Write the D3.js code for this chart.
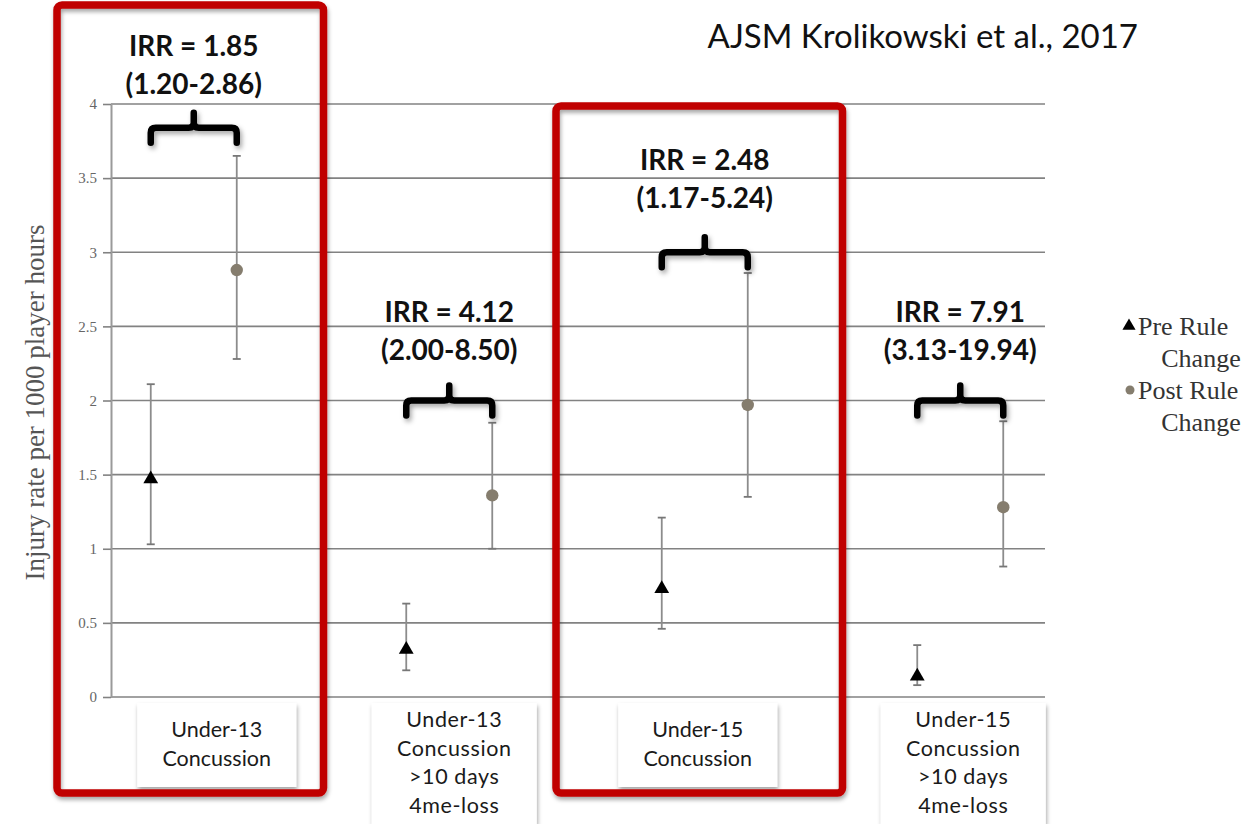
<!DOCTYPE html>
<html>
<head>
<meta charset="utf-8">
<script src="https://cdn.jsdelivr.net/npm/d3@7"></script>
<style>
  html, body { margin: 0; padding: 0; background: #fff; }
  svg { display: block; }
</style>
</head>
<body>
<script>
// ---------------- DATA ----------------
const groups = ["U13C", "U13T", "U15C", "U15T"];
const groupLabels = [
  ["Under-13", "Concussion"],
  ["Under-13", "Concussion", ">10 days", "4me-loss"],
  ["Under-15", "Concussion"],
  ["Under-15", "Concussion", ">10 days", "4me-loss"]
];
const series = ["Pre Rule Change", "Post Rule Change"];
const preRate  = [1.47, 0.32, 0.73, 0.14];
const preLow   = [1.03, 0.18, 0.46, 0.08];
const preHigh  = [2.11, 0.63, 1.21, 0.35];
const postRate = [2.88, 1.36, 1.97, 1.28];
const postLow  = [2.28, 1.00, 1.35, 0.88];
const postHigh = [3.65, 1.85, 2.86, 1.86];
const irrText  = ["IRR = 1.85", "IRR = 4.12", "IRR = 2.48", "IRR = 7.91"];
const ciText   = ["(1.20-2.86)", "(2.00-8.50)", "(1.17-5.24)", "(3.13-19.94)"];
const bracketLevel = [3.84, 2.0, 3.0, 2.0];   // in y units
const irrLevel     = [4.39, 2.60, 3.62, 2.60]; // in y units
const highlighted  = ["U13C", "U15C"];
const yTicks = [0, 0.5, 1, 1.5, 2, 2.5, 3, 3.5, 4];
const yLabel = "Injury rate per 1000 player hours";
const source = "AJSM Krolikowski et al., 2017";

// ---------------- LAYOUT ----------------
const W = 1251, H = 824;
const svg = d3.select("body").append("svg").attr("width", W).attr("height", H);
svg.append("rect").attr("width", W).attr("height", H).attr("fill", "#fff");

const defs = svg.append("defs");
const sh = defs.append("filter").attr("id", "shadow").attr("x", "-20%").attr("y", "-20%").attr("width", "150%").attr("height", "150%");
sh.append("feDropShadow").attr("dx", 2).attr("dy", 3).attr("stdDeviation", 2.5).attr("flood-color", "#000").attr("flood-opacity", 0.35);
const sh2 = defs.append("filter").attr("id", "shadow2").attr("x", "-20%").attr("y", "-50%").attr("width", "150%").attr("height", "250%");
sh2.append("feDropShadow").attr("dx", 1).attr("dy", 3).attr("stdDeviation", 2).attr("flood-color", "#000").attr("flood-opacity", 0.35);

const axisX = 111, gridRight = 1045;
const x = d3.scaleBand().domain(groups).range([66, 1088]);
const inner = d3.scalePoint().domain(series).range([-43, 43]);
const y = d3.scaleLinear().domain([0, 4]).range([697, 104]);
const cx = g => x(g) + x.bandwidth() / 2;

// gridlines
svg.append("g").selectAll("line").data(yTicks).join("line")
  .attr("x1", axisX).attr("x2", gridRight)
  .attr("y1", d => y(d)).attr("y2", d => y(d))
  .attr("stroke", "#828282").attr("stroke-width", 1.6);

// axis
const yAxis = d3.axisLeft(y).tickValues(yTicks).tickSize(8).tickSizeOuter(0).tickPadding(6)
  .tickFormat(d3.format("~g"));
const ga = svg.append("g").attr("transform", `translate(${axisX},0)`).call(yAxis);
ga.select(".domain").attr("stroke", "#9a9a9a").attr("stroke-width", 2);
ga.selectAll(".tick line").attr("stroke", "#828282").attr("stroke-width", 1.6);
ga.selectAll(".tick text").attr("fill", "#666").style("font-family", "'Liberation Serif', serif").style("font-size", "15px");

// y label
svg.append("text")
  .attr("transform", `translate(38, ${(y(0) + y(4)) / 2 + 2}) rotate(-90)`)
  .attr("text-anchor", "middle").attr("dominant-baseline", "middle")
  .style("font-family", "'Liberation Serif', serif").style("font-size", "27px").attr("fill", "#555")
  .text(yLabel);

// data rows
const rows = [];
groups.forEach((g, i) => {
  rows.push({ g, s: series[0], v: preRate[i], lo: preLow[i], hi: preHigh[i] });
  rows.push({ g, s: series[1], v: postRate[i], lo: postLow[i], hi: postHigh[i] });
});
const px = d => cx(d.g) + inner(d.s);

const eb = svg.append("g").selectAll("g").data(rows).join("g");
eb.append("line").attr("x1", px).attr("x2", px).attr("y1", d => y(d.lo)).attr("y2", d => y(d.hi))
  .attr("stroke", "#8c8c8c").attr("stroke-width", 1.8);
eb.append("line").attr("x1", d => px(d) - 4).attr("x2", d => px(d) + 4).attr("y1", d => y(d.hi)).attr("y2", d => y(d.hi))
  .attr("stroke", "#777").attr("stroke-width", 1.8);
eb.append("line").attr("x1", d => px(d) - 4).attr("x2", d => px(d) + 4).attr("y1", d => y(d.lo)).attr("y2", d => y(d.lo))
  .attr("stroke", "#777").attr("stroke-width", 1.8);

// markers
svg.append("g").selectAll("path").data(rows.filter(d => d.s === series[0])).join("path")
  .attr("d", d3.symbol(d3.symbolTriangle, 95))
  .attr("transform", d => `translate(${px(d)},${y(d.v)})`)
  .attr("fill", "#000");
svg.append("g").selectAll("circle").data(rows.filter(d => d.s === series[1])).join("circle")
  .attr("cx", px).attr("cy", d => y(d.v)).attr("r", 6.2)
  .attr("fill", "#857d6e");

// brackets
const bg = svg.append("g").attr("filter", "url(#shadow)");
groups.forEach((g, i) => {
  const x1 = cx(g) + inner(series[0]), x2 = cx(g) + inner(series[1]), xm = (x1 + x2) / 2;
  const yb = y(bracketLevel[i]);
  const r = 5, hook = 15, stem = 15;
  const p = d3.path();
  p.moveTo(x1, yb + hook); p.lineTo(x1, yb + r); p.quadraticCurveTo(x1, yb, x1 + r, yb);
  p.lineTo(xm - r, yb); p.quadraticCurveTo(xm, yb, xm, yb - r); p.lineTo(xm, yb - stem);
  p.moveTo(xm, yb - r); p.quadraticCurveTo(xm, yb, xm + r, yb);
  p.lineTo(x2 - r, yb); p.quadraticCurveTo(x2, yb, x2, yb + r); p.lineTo(x2, yb + hook);
  bg.append("path").attr("d", p.toString()).attr("fill", "none").attr("stroke", "#000")
    .attr("stroke-width", 6.5).attr("stroke-linecap", "round").attr("stroke-linejoin", "round");
});

// IRR labels
groups.forEach((g, i) => {
  const xm = cx(g);
  const yt = y(irrLevel[i]);
  const t = svg.append("text").attr("text-anchor", "middle")
    .style("font-family", "Lato, 'Open Sans', sans-serif").style("font-weight", "bold").style("font-size", "28px")
    .attr("fill", "#111");
  t.append("tspan").attr("x", xm).attr("y", yt + 10).text(irrText[i]);
  t.append("tspan").attr("x", xm).attr("y", yt + 48).text(ciText[i]);
});

// category label boxes
const boxDx = [23, 5, -7, 3];
groups.forEach((g, i) => {
  const lines = groupLabels[i];
  const bc = cx(g) + boxDx[i];
  const bw = lines.length > 2 ? 165 : 159;
  const top = 703;
  const bh = lines.length > 2 ? 121 : 84;
  svg.append("rect").attr("x", bc - bw / 2).attr("y", top).attr("width", bw).attr("height", bh)
    .attr("fill", "#fff").attr("filter", "url(#shadow2)");
  const lh = 28.5;
  const first = lines.length > 2 ? top + 19 : top + 29;
  lines.forEach((ln, k) => {
    svg.append("text").attr("x", bc).attr("y", first + k * lh).attr("text-anchor", "middle")
      .attr("dominant-baseline", "middle")
      .style("font-family", "Lato, 'Open Sans', sans-serif").style("font-size", "21.5px")
      .style("letter-spacing", lines.length > 2 ? "0.6px" : "0px")
      .attr("fill", "#1a1a1a").text(ln);
  });
});

// red highlight boxes
const hlPad = { U13C: [9, 2, 5], U15C: [21, 10, 106] };
highlighted.forEach(g => {
  const [pl, pr, top] = hlPad[g];
  const left = x(g) - pl, right = x(g) + x.bandwidth() + pr;
  svg.append("rect").attr("x", left).attr("y", top).attr("width", right - left).attr("height", 793 - top)
    .attr("rx", 5).attr("fill", "none").attr("stroke", "#c00000").attr("stroke-width", 7.5)
    .attr("filter", "url(#shadow2)");
});

// legend
const lg = svg.append("g").style("font-family", "'Liberation Serif', serif").style("font-size", "26px").attr("fill", "#333");
lg.append("path").attr("d", d3.symbol(d3.symbolTriangle, 75)).attr("transform", "translate(1129,326)").attr("fill", "#000");
lg.append("text").attr("x", 1138).attr("y", 335).text("Pre Rule");
lg.append("text").attr("x", 1201).attr("y", 367).attr("text-anchor", "middle").text("Change");
lg.append("circle").attr("cx", 1130).attr("cy", 390).attr("r", 4.5).attr("fill", "#857d6e");
lg.append("text").attr("x", 1138).attr("y", 399).text("Post Rule");
lg.append("text").attr("x", 1201).attr("y", 431).attr("text-anchor", "middle").text("Change");

// source
svg.append("text").attr("x", 1138).attr("y", 48).attr("text-anchor", "end")
  .style("font-family", "Lato, 'Open Sans', sans-serif").style("font-size", "33px").attr("fill", "#111")
  .text(source);
</script>
</body>
</html>
